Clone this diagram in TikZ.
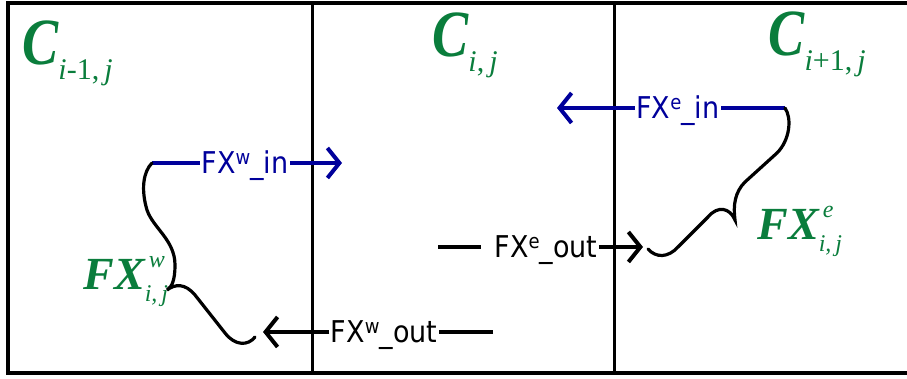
\documentclass[tikz,border=0pt]{standalone}
\usepackage{fontspec}
\setmainfont{Liberation Serif}
\newfontfamily\cellfont[FakeStretch=0.82]{Liberation Serif}
\newfontfamily\labelfont[FakeStretch=0.9]{DejaVu Sans}
\usetikzlibrary{arrows.meta}
\definecolor{cellgreen}{RGB}{10,125,60}
\definecolor{fluxblue}{RGB}{0,0,155}

\newcommand{\cellname}[1]{{\cellfont\fontsize{33}{33}\selectfont\bfseries\itshape C}\raisebox{-7.5pt}{\fontsize{15}{15}\selectfont #1}}
\newcommand{\fluxname}[2]{{\fontsize{23}{23}\selectfont\bfseries\itshape FX}\raisebox{-6pt}{\fontsize{12}{17}\selectfont\itshape\begin{tabular}[b]{@{}l@{}}\,#1\\#2\end{tabular}}}
\newcommand{\fluxsup}[1]{\raisebox{4.5pt}{\fontsize{10}{10}\selectfont #1}}

\begin{document}
\begin{tikzpicture}[x=0.5pt, y=-0.5pt,
  outerframe/.style={line width=2pt, line join=miter},
  wall/.style={line width=1.5pt},
  flux/.style={font=\labelfont\fontsize{15}{15}\selectfont, text height=11pt, text depth=0pt, inner sep=0.5pt},
  fluxline/.style={line width=2pt},
  arrowtip/.style={-{Straight Barb[length=6pt,width=15pt]}},
  bracecurve/.style={line width=1.6pt, line cap=round},
  celllabel/.style={text=cellgreen, anchor=base west, inner sep=0pt}]
\useasboundingbox (0,0) rectangle (907,379);

% Cells
\draw[outerframe] (907,3) -- (8,3) -- (8,373) -- (907,373);
\foreach \xw in {312,614} {
  \draw[wall] (\xw,3) -- (\xw,373);
}

% Cell names
\node[celllabel] (cw) at (22,65) {\cellname{\textit{i}-1,\,\textit{j}}};
\node[celllabel] (cc) at (432,57) {\cellname{\textit{i},\,\textit{j}}};
\node[celllabel] (ce) at (768,56) {\cellname{\textit{i}+1,\,\textit{j}}};

% Flux names
\node[celllabel] (fxw) at (83,290) {\fluxname{w}{i,\,j}};
\node[celllabel] (fxe) at (757,240) {\fluxname{e}{i,\,j}};

% West face
\coordinate (win-s) at (152,163);
\coordinate (win-e) at (342,163);
\node[flux, text=fluxblue] (win) at (245,163) {FX\fluxsup{w}\_in};
\draw[fluxline, fluxblue] (win-s) -- (win);
\draw[fluxline, fluxblue, arrowtip] (win) -- (win-e);

\coordinate (wout-s) at (493,332);
\coordinate (wout-e) at (263,332);
\node[flux] (wout) at (384,332) {FX\fluxsup{w}\_out};
\draw[fluxline] (wout-s) -- (wout);
\draw[fluxline, arrowtip] (wout) -- (wout-e);

% East face
\coordinate (ein-s) at (785,108);
\coordinate (ein-e) at (557,108);
\node[flux, text=fluxblue] (ein) at (678,108) {FX\fluxsup{e}\_in};
\draw[fluxline, fluxblue] (ein-s) -- (ein);
\draw[fluxline, fluxblue, arrowtip] (ein) -- (ein-e);

\coordinate (eout-s) at (438,247);
\coordinate (eout-e) at (643,247);
\node[flux] (eout) at (546,247) {FX\fluxsup{e}\_out};
\draw[fluxline, shorten >=6pt] (eout-s) -- (eout);
\draw[fluxline, arrowtip] (eout) -- (eout-e);

% Braces
\draw[bracecurve] (win-s) .. controls (143,172) and (141,190) .. (147,210)
  .. controls (153,228) and (175,240) .. (175,265)
  .. controls (175,280) and (172,287) .. (167,290)
  .. controls (175,284) and (185,283) .. (195,295) -- (225,333)
  .. controls (235,346) and (248,346) .. (255,337);
\draw[bracecurve] (ein-s) .. controls (792,118) and (790,140) .. (777,153) -- (745,182)
  .. controls (735,192) and (733,205) .. (735,220)
  .. controls (730,208) and (718,205) .. (708,217) -- (678,247)
  .. controls (668,258) and (656,258) .. (648,249);
\end{tikzpicture}
\end{document}
